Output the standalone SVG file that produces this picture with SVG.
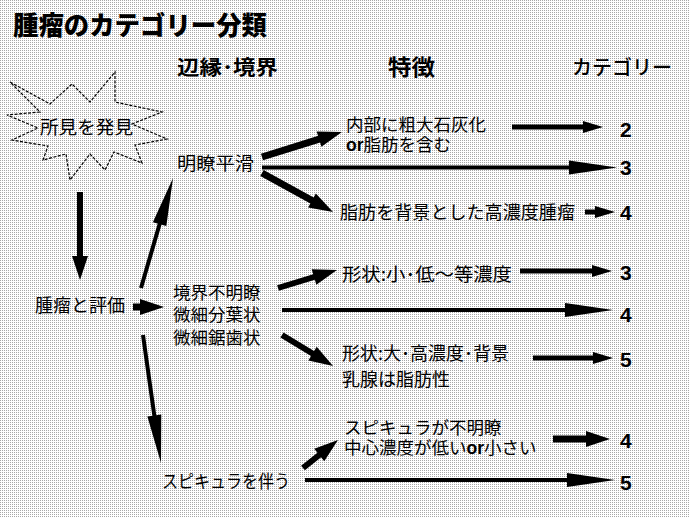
<svg xmlns="http://www.w3.org/2000/svg" width="689" height="517" viewBox="0 0 689 517">
<defs>
<pattern id="dots" width="2" height="2" patternUnits="userSpaceOnUse">
<rect width="2" height="2" fill="#ffffff"/>
<rect width="1" height="1" fill="#a8a8a8"/>
</pattern>
<marker id="h1" markerUnits="userSpaceOnUse" markerWidth="20" markerHeight="12" refX="10" refY="6" orient="auto" overflow="visible"><path d="M0,0 L20,6 L0,12 Z" fill="#000"/></marker>
<marker id="h2" markerUnits="userSpaceOnUse" markerWidth="48" markerHeight="14" refX="20" refY="7" orient="auto" overflow="visible"><path d="M0,0 L48,7 L0,14 Z" fill="#000"/></marker>
<marker id="h3" markerUnits="userSpaceOnUse" markerWidth="24" markerHeight="16" refX="12" refY="8" orient="auto" overflow="visible"><path d="M0,0 L24,8 L0,16 Z" fill="#000"/></marker>
<style>
.t{font-family:"Noto Sans CJK JP","Noto Sans CJK SC",sans-serif;font-size:18px;fill:#000}
.m{font-family:"Liberation Sans","Noto Sans CJK JP",sans-serif;font-size:17.5px}
.b{font-weight:bold}
.or{font-family:"Liberation Sans",Arial,sans-serif;font-weight:bold}
.n{font-family:"Liberation Sans",Arial,sans-serif;font-size:21px;font-weight:bold;fill:#000}
.c line{stroke:#000;fill:none}
.s1{stroke-width:4;marker-end:url(#h2)}
.s2{stroke-width:6;marker-end:url(#h3)}
.s3{stroke-width:5;marker-end:url(#h1)}
</style>
</defs>
<rect width="689" height="517" fill="url(#dots)"/>

<g id="title"><text class="t" x="13" y="35" style="font-size:26px;font-weight:900" textLength="254" lengthAdjust="spacingAndGlyphs">腫瘤のカテゴリー分類</text></g>
<g id="header-edge"><text class="t b" x="177" y="75" style="font-size:20px" textLength="101" lengthAdjust="spacingAndGlyphs">辺縁･境界</text></g>
<g id="header-feature"><text class="t b" x="388" y="75" style="font-size:22px" textLength="47" lengthAdjust="spacingAndGlyphs">特徴</text></g>
<g id="header-category"><text class="t" x="572" y="75" style="font-size:20px;font-weight:500" textLength="100" lengthAdjust="spacingAndGlyphs">カテゴリー</text></g>

<g id="finding">
<path d="M10,82 L50,104 L72,84 L90,102 L115,72 L115,102 L162,112 L132,124 L167,139 L135,145 L142,163 L114,152 L105,170 L90,154 L70,180 L66,154 L43,160 L48,146 L12,140 L38,128 L7,115 L40,112 Z" fill="none" stroke="#000" stroke-width="1.2" stroke-dasharray="3 1.5"/>
<text class="t" x="40" y="134" textLength="93" lengthAdjust="spacingAndGlyphs">所見を発見</text>
</g>
<g id="evaluate"><text class="t" x="35" y="312" textLength="90" lengthAdjust="spacingAndGlyphs">腫瘤と評価</text></g>
<g id="clear"><text class="t" x="177" y="170" textLength="77" lengthAdjust="spacingAndGlyphs">明瞭平滑</text></g>
<g id="unclear">
<text class="t m"><tspan x="173" y="299">境界不明瞭</tspan><tspan x="173" y="321">微細分葉状</tspan><tspan x="173" y="344">微細鋸歯状</tspan></text>
</g>
<g id="spicula"><text class="t" x="162" y="488" textLength="128" lengthAdjust="spacingAndGlyphs">スピキュラを伴う</text></g>

<g id="f-calc">
<text class="t m"><tspan x="346" y="131">内部に粗大石灰化</tspan><tspan x="346" y="151"><tspan class="or">or</tspan>脂肪を含む</tspan></text>
</g>
<g id="f-fat"><text class="t" x="340" y="219" textLength="235" lengthAdjust="spacingAndGlyphs">脂肪を背景とした高濃度腫瘤</text></g>
<g id="f-small"><text class="t" x="342" y="281" textLength="170" lengthAdjust="spacingAndGlyphs">形状:小･低～等濃度</text></g>
<g id="f-large">
<text class="t"><tspan x="342" y="360">形状:大･高濃度･背景</tspan><tspan x="342" y="386">乳腺は脂肪性</tspan></text>
</g>
<g id="f-spic">
<text class="t m"><tspan x="344" y="434">スピキュラが不明瞭</tspan><tspan x="344" y="454">中心濃度が低い<tspan class="or">or</tspan>小さい</tspan></text>
</g>

<g id="cat-2a"><text class="n" x="620" y="137">2</text></g>
<g id="cat-3a"><text class="n" x="620" y="175">3</text></g>
<g id="cat-4a"><text class="n" x="620" y="220">4</text></g>
<g id="cat-3b"><text class="n" x="620" y="280">3</text></g>
<g id="cat-4b"><text class="n" x="620" y="322">4</text></g>
<g id="cat-5a"><text class="n" x="620" y="367">5</text></g>
<g id="cat-4c"><text class="n" x="620" y="448">4</text></g>
<g id="cat-5b"><text class="n" x="620" y="490">5</text></g>

<g id="connectors" class="c">
<line class="s2" x1="80" y1="192" x2="80" y2="268"/>
<line class="s2" x1="133" y1="307" x2="152" y2="307" style="stroke-width:7"/>
<line class="s1" x1="141" y1="288" x2="165.2" y2="204.9"/>
<line class="s1" x1="143" y1="335" x2="157.1" y2="435.3"/>
<line class="s2" x1="262" y1="157" x2="330.5" y2="135.6" style="stroke-width:7"/>
<line class="s1" x1="262" y1="167.5" x2="589" y2="167.5"/>
<line class="s2" x1="262" y1="173" x2="322.5" y2="206.2" style="stroke-width:7"/>
<line class="s3" x1="512" y1="127" x2="593" y2="127"/>
<line class="s3" x1="585" y1="212" x2="605" y2="212"/>
<line class="s2" x1="278" y1="288" x2="325.5" y2="273.5"/>
<line class="s1" x1="282" y1="310" x2="585" y2="310"/>
<line class="s2" x1="282" y1="335" x2="322.8" y2="359.8"/>
<line class="s3" x1="520" y1="271" x2="602" y2="271"/>
<line class="s3" x1="533" y1="358" x2="603" y2="358"/>
<line class="s2" x1="303" y1="468" x2="328.6" y2="447.5"/>
<line class="s2" x1="553" y1="439" x2="598" y2="439" style="stroke-width:7"/>
<line class="s1" x1="305" y1="480" x2="587" y2="480"/>
</g>
</svg>
